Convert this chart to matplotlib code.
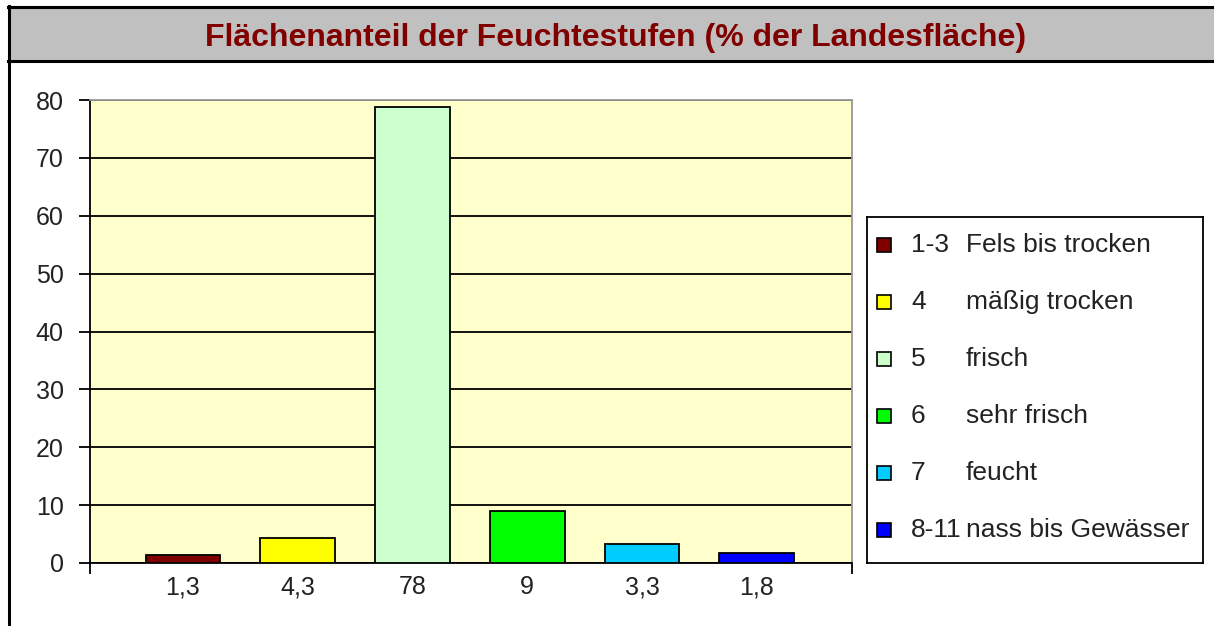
import matplotlib.pyplot as plt
from matplotlib.patches import Rectangle
from matplotlib.lines import Line2D

plt.rcParams['font.family'] = ['Liberation Sans', 'DejaVu Sans']

# Daten
tick_labels = ['1,3', '4,3', '78', '9', '3,3', '1,8']
values = [1.3, 4.3, 78.8, 9, 3.3, 1.8]
codes = ['1-3', '4', '5', '6', '7', '8-11']
names = ['Fels bis trocken', 'mäßig trocken', 'frisch', 'sehr frisch', 'feucht', 'nass bis Gewässer']
colors = ['#800000', '#FFFF00', '#CCFFCC', '#00FF00', '#00CCFF', '#0000FF']

W, H = 1214, 626
fig = plt.figure(figsize=(W / 100, H / 100), dpi=100)
fig.patch.set_facecolor('white')

# Rahmen und Titelbalken
fig.patches.append(Rectangle((10 / W, 1 - 60 / H), 1, 52 / H, transform=fig.transFigure,
                             facecolor='#C0C0C0', edgecolor='none', zorder=0))
fig.lines.append(Line2D([8 / W, 1], [1 - 7 / H, 1 - 7 / H], transform=fig.transFigure,
                        color='black', lw=2.2))
fig.lines.append(Line2D([8 / W, 1], [1 - 61 / H, 1 - 61 / H], transform=fig.transFigure,
                        color='black', lw=2.2))
fig.lines.append(Line2D([9 / W, 9 / W], [0, 1 - 6 / H], transform=fig.transFigure,
                        color='black', lw=2.2))
fig.text(0.507, 1 - 38 / H, 'Flächenanteil der Feuchtestufen (% der Landesfläche)',
         ha='center', va='center', fontsize=23, fontweight='bold', color='#800000')

# Diagramm
ax = fig.add_axes([90 / W, 63 / H, 762 / W, 463 / H])
ax.set_facecolor('#FFFFCC')
x = list(range(len(values)))
ax.bar(x, values, width=0.65, color=colors, edgecolor='black', linewidth=1.3, zorder=3)
ax.set_xlim(-0.81, 5.83)
ax.set_ylim(0, 80)
ax.set_yticks(range(0, 81, 10))
ax.yaxis.grid(True, color='black', linewidth=1.3, zorder=1)
ax.set_axisbelow(True)
ax.tick_params(axis='y', direction='out', length=8, width=1.3, labelsize=18, pad=11,
               colors='black', labelcolor='#222222')
ax.set_xticks(x)
ax.set_xticklabels(tick_labels)
ax.tick_params(axis='x', which='major', length=0, labelsize=18, pad=9, labelcolor='#222222')
ax.set_xticks([-0.81, 5.83], minor=True)
ax.tick_params(axis='x', which='minor', direction='out', length=8, width=1.3)
for side in ['top', 'right']:
    ax.spines[side].set_color('#999999')
    ax.spines[side].set_linewidth(1.3)
for side in ['left', 'bottom']:
    ax.spines[side].set_color('black')
    ax.spines[side].set_linewidth(1.3)

# Legende
lg = fig.add_axes([867 / W, 63 / H, 336 / W, 346 / H])
lg.set_xlim(0, 336)
lg.set_ylim(346, 0)
lg.set_xticks([])
lg.set_yticks([])
for s in lg.spines.values():
    s.set_linewidth(1.3)
    s.set_color('black')
for i, (c, code, name) in enumerate(zip(colors, codes, names)):
    yc = 28 + i * 57
    lg.add_patch(Rectangle((10, yc - 7), 14, 14, facecolor=c, edgecolor='black', linewidth=1.2))
    lg.text(44, yc, code, va='center', ha='left', fontsize=19, color='#222222')
    lg.text(99, yc, name, va='center', ha='left', fontsize=19, color='#222222')

fig.savefig('out.png', dpi=100)
